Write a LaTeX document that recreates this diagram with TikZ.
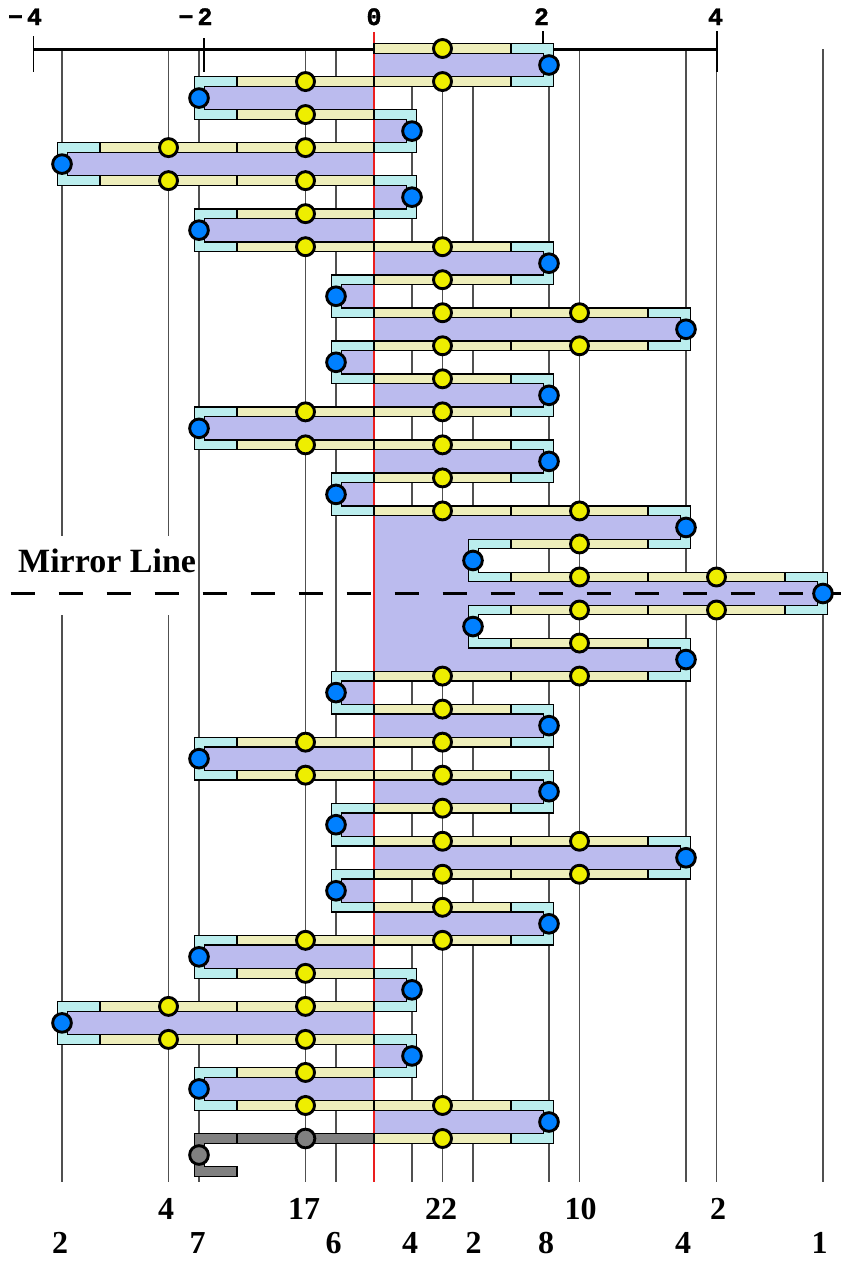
\documentclass[tikz,border=0pt]{standalone}
\usepackage{fontspec}
\setmainfont{Liberation Serif}
\newfontfamily\monofont[BoldFont={Liberation Mono Bold},BoldFeatures={FakeBold=1.5}]{Liberation Mono}
\definecolor{lav}{RGB}{187,187,238}
\definecolor{capc}{RGB}{187,238,238}
\definecolor{stripc}{RGB}{238,238,187}
\definecolor{ydot}{RGB}{238,238,0}
\definecolor{bdot}{RGB}{0,128,255}
\definecolor{gdot}{RGB}{128,128,128}
\definecolor{redl}{RGB}{235,30,30}
\definecolor{gridc}{RGB}{80,80,80}
\tikzset{
  gridline/.style={draw=gridc, line width=1.1pt},
  ystrip/.style={fill=stripc, draw=black, line width=1.3pt},
  capshape/.style={fill=capc, draw=black, line width=1.3pt},
  greyshape/.style={fill=gdot, draw=black, line width=1.3pt},
  ydotn/.style={circle, fill=ydot, draw=black, line width=2.9pt, minimum size=18pt, inner sep=0pt},
  bdotn/.style={circle, fill=bdot, draw=black, line width=2.9pt, minimum size=18.7pt, inner sep=0pt},
  gdotn/.style={circle, fill=gdot, draw=black, line width=2.9pt, minimum size=18.7pt, inner sep=0pt},
  toplab/.style={font=\monofont\bfseries\fontsize{25}{25}\selectfont, inner sep=0pt, anchor=base},
  numlab/.style={font=\bfseries\fontsize{32}{32}\selectfont, inner sep=0pt, anchor=base},
}
\begin{document}
\begin{tikzpicture}[x=1pt,y=-1pt]
\useasboundingbox (0,0) rectangle (841,1262);
% vertical grid lines
\foreach \xx in {199,305.5,336,412,442.5,473,549,579.5,686,716.5,823}
  \draw[gridline] (\xx,49) -- (\xx,1182);
\foreach \xx in {62,168.5} {
  \draw[gridline] (\xx,49) -- (\xx,536);
  \draw[gridline] (\xx,615) -- (\xx,1182);
}
% axis
\draw[line width=3pt] (33.3,49) -- (717,49);
\draw[line width=1.3pt] (33.3,36) -- (33.3,72);
\draw[line width=1.3pt] (204,38) -- (204,72);
\draw[line width=1.3pt] (543,31) -- (543,45);
\draw[line width=1.3pt] (717,31) -- (717,72);
\node[toplab] (tm4) at (34.5,25) {\llap{−\kern4pt}4};
\node[toplab] (tm2) at (205,25) {\llap{−\kern4pt}2};
\node[toplab] (t0) at (374,25) {0};
\node[toplab] (t2) at (541.5,25) {2};
\node[toplab] (t4) at (715.5,25) {4};
% lavender lobes
\foreach \ii/\ss/\nn in {1/1/1,2/-1/1,3/1/0,4/-1/2,5/1/0,6/-1/1,7/1/1,8/-1/0,9/1/2,10/-1/0,11/1/1,12/-1/1,13/1/1,14/-1/0,15/1/2,17/1/3,19/1/2,20/-1/0,21/1/1,22/-1/1,23/1/1,24/-1/0,25/1/2,26/-1/0,27/1/1,28/-1/1,29/1/0,30/-1/2,31/1/0,32/-1/1,33/1/1} {
  \pgfmathsetmacro\ya{48.5+33.03*(\ii-1)}
  \pgfmathsetmacro\yb{48.5+33.03*\ii}
  \pgfmathsetmacro\xc{374+\ss*(137*\nn+32.5)}
  \fill[lav] (374,\ya) rectangle (\xc,\yb);
}
\foreach \ii in {16,18} {
  \pgfmathsetmacro\ya{48.5+33.03*(\ii-1)}
  \pgfmathsetmacro\yb{48.5+33.03*\ii}
  \fill[lav] (374,\ya) rectangle (468.5,\yb);
}
% red line and mirror line
\draw[redl, line width=1.4pt] (374,32) -- (374,1182);
\draw[line width=3pt, dash pattern=on 24pt off 24pt] (10.7,593.5) -- (841,593.5);
\node[anchor=base west, inner sep=0pt, font=\bfseries\fontsize{34}{34}\selectfont] (mirror) at (18,572) {Mirror Line};
% yellow strip segments
\foreach \k/\j in {0/0,1/0,1/-1,2/-1,3/-1,3/-2,4/-1,4/-2,5/-1,6/-1,6/0,7/0,8/0,8/1,9/0,9/1,10/0,11/0,11/-1,12/-1,12/0,13/0,14/0,14/1,15/1,16/1,16/2,17/1,17/2,18/1,19/0,19/1,20/0,21/0,21/-1,22/-1,22/0,23/0,24/0,24/1,25/0,25/1,26/0,27/0,27/-1,28/-1,29/-1,29/-2,30/-1,30/-2,31/-1,32/-1,32/0,33/0} {
  \pgfmathsetmacro\yc{48.5+33.03*\k}
  \pgfmathsetmacro\xa{374+137*\j}
  \filldraw[ystrip] (\xa,\yc-4.8) rectangle (\xa+137,\yc+4.8);
}
% caps (U shapes)
\foreach \ii/\ss/\nn in {1/1/1,2/-1/1,3/1/0,4/-1/2,5/1/0,6/-1/1,7/1/1,8/-1/0,9/1/2,10/-1/0,11/1/1,12/-1/1,13/1/1,14/-1/0,15/1/2,17/1/3,19/1/2,20/-1/0,21/1/1,22/-1/1,23/1/1,24/-1/0,25/1/2,26/-1/0,27/1/1,28/-1/1,29/1/0,30/-1/2,31/1/0,32/-1/1,33/1/1} {
  \pgfmathsetmacro\ya{48.5+33.03*(\ii-1)}
  \pgfmathsetmacro\yb{48.5+33.03*\ii}
  \pgfmathsetmacro\xa{374+\ss*137*\nn}
  \pgfmathsetmacro\xb{374+\ss*(137*\nn+42.5)}
  \pgfmathsetmacro\xc{374+\ss*(137*\nn+32.5)}
  \filldraw[capshape] (\xa,\ya-4.8) -- (\xb,\ya-4.8) -- (\xb,\yb+4.8) -- (\xa,\yb+4.8) -- (\xa,\yb-4.8) -- (\xc,\yb-4.8) -- (\xc,\ya+4.8) -- (\xa,\ya+4.8) -- cycle;
}
\foreach \ii in {16,18} {
  \pgfmathsetmacro\ya{48.5+33.03*(\ii-1)}
  \pgfmathsetmacro\yb{48.5+33.03*\ii}
  \filldraw[capshape] (511,\ya-4.8) -- (468.5,\ya-4.8) -- (468.5,\yb+4.8) -- (511,\yb+4.8) -- (511,\yb-4.8) -- (478.5,\yb-4.8) -- (478.5,\ya+4.8) -- (511,\ya+4.8) -- cycle;
}
% grey part
\pgfmathsetmacro\ga{48.5+33.03*33}
\pgfmathsetmacro\gb{48.5+33.03*34}
\filldraw[greyshape] (237,\ga-4.8) rectangle (374,\ga+4.8);
\filldraw[greyshape] (237,\ga-4.8) -- (194.5,\ga-4.8) -- (194.5,\gb+4.8) -- (237,\gb+4.8) -- (237,\gb-4.8) -- (204.5,\gb-4.8) -- (204.5,\ga+4.8) -- (237,\ga+4.8) -- cycle;
% yellow dots
\foreach \k/\j in {0/0,1/0,1/-1,2/-1,3/-1,3/-2,4/-1,4/-2,5/-1,6/-1,6/0,7/0,8/0,8/1,9/0,9/1,10/0,11/0,11/-1,12/-1,12/0,13/0,14/0,14/1,15/1,16/1,16/2,17/1,17/2,18/1,19/0,19/1,20/0,21/0,21/-1,22/-1,22/0,23/0,24/0,24/1,25/0,25/1,26/0,27/0,27/-1,28/-1,29/-1,29/-2,30/-1,30/-2,31/-1,32/-1,32/0,33/0} {
  \pgfmathsetmacro\yc{48.5+33.03*\k}
  \pgfmathsetmacro\xa{374+137*\j+68.5}
  \pgfmathtruncatemacro\jj{\j+3}
  \node[ydotn] (yk\k j\jj) at (\xa,\yc) {};
}
% blue dots
\foreach \ii/\ss/\nn in {1/1/1,2/-1/1,3/1/0,4/-1/2,5/1/0,6/-1/1,7/1/1,8/-1/0,9/1/2,10/-1/0,11/1/1,12/-1/1,13/1/1,14/-1/0,15/1/2,17/1/3,19/1/2,20/-1/0,21/1/1,22/-1/1,23/1/1,24/-1/0,25/1/2,26/-1/0,27/1/1,28/-1/1,29/1/0,30/-1/2,31/1/0,32/-1/1,33/1/1} {
  \pgfmathsetmacro\ym{48.5+33.03*(\ii-0.5)}
  \pgfmathsetmacro\xm{374+\ss*(137*\nn+38)}
  \node[bdotn] (b\ii) at (\xm,\ym) {};
}
\foreach \ii in {16,18} {
  \pgfmathsetmacro\ym{48.5+33.03*(\ii-0.5)}
  \node[bdotn] (b\ii) at (473,\ym) {};
}
\node[gdotn] (g1) at (305.5,\ga) {};
\node[gdotn] (g2) at (199,{(\ga+\gb)/2}) {};
% bottom counts
\node[numlab] (c1) at (166,1219) {4};
\node[numlab] (c2) at (304,1219) {17};
\node[numlab] (c3) at (441,1219) {22};
\node[numlab] (c4) at (580.5,1219) {10};
\node[numlab] (c5) at (718,1219) {2};
\node[numlab] (d1) at (60,1253) {2};
\node[numlab] (d2) at (197.5,1253) {7};
\node[numlab] (d3) at (333.5,1253) {6};
\node[numlab] (d4) at (410,1253) {4};
\node[numlab] (d5) at (473.5,1253) {2};
\node[numlab] (d6) at (546,1253) {8};
\node[numlab] (d7) at (683,1253) {4};
\node[numlab] (d8) at (819.5,1253) {1};
\end{tikzpicture}
\end{document}
